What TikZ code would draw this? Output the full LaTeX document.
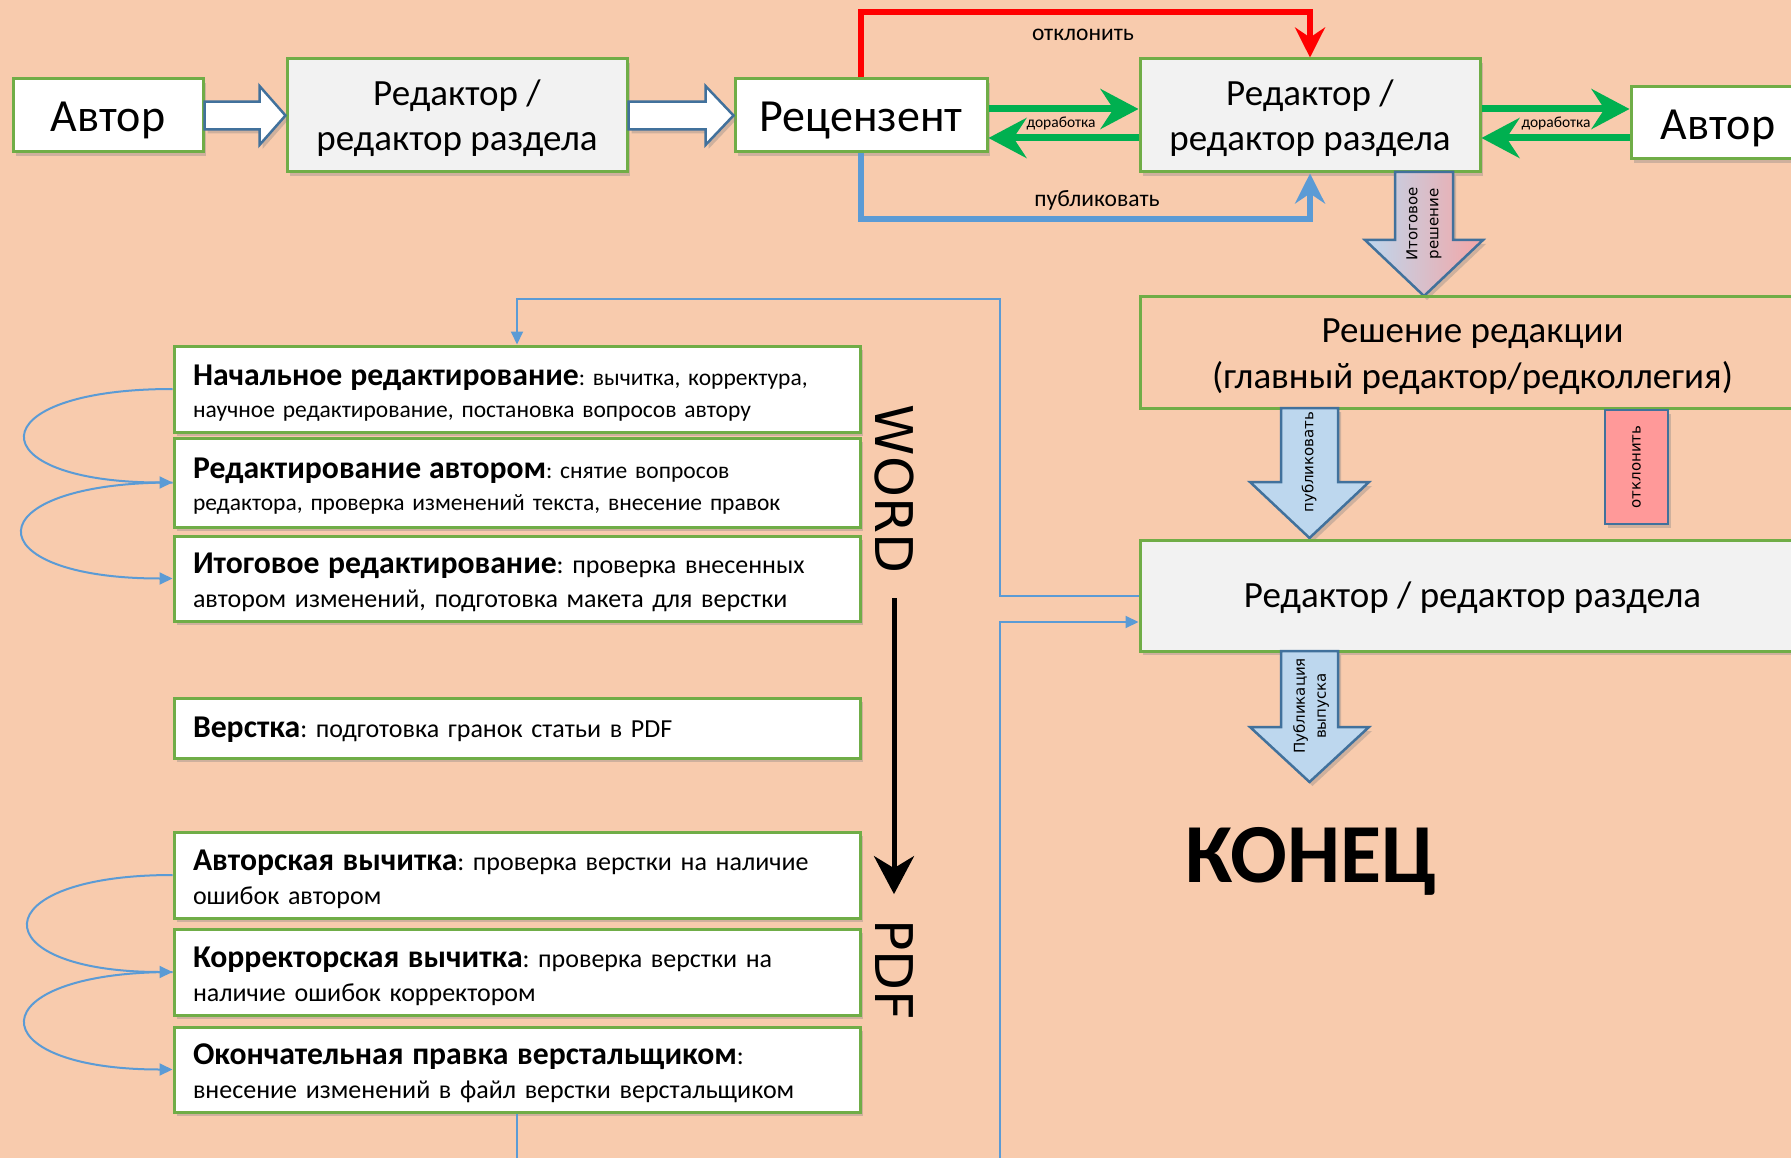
\documentclass[tikz,border=0pt]{standalone}
\usepackage{fontspec}
\setmainfont{Carlito}
\newfontfamily\dvfont{DejaVu Sans}
\usetikzlibrary{arrows.meta,shadows,calc}
\definecolor{bgc}{HTML}{F8CBAD}
\definecolor{gbord}{HTML}{70AD47}
\definecolor{boxgray}{HTML}{F2F2F2}
\definecolor{bdark}{HTML}{41719C}
\definecolor{blin}{HTML}{5B9BD5}
\definecolor{garr}{HTML}{00B050}
\definecolor{lblue}{HTML}{BDD7EE}
\definecolor{lpink}{HTML}{F4A6A6}
\definecolor{rbox}{HTML}{FF9999}
\newcommand\fsBig{\fontsize{46}{52}\selectfont}
\newcommand\fsMid{\fontsize{37}{45}\selectfont}
\newcommand\fsRes{\fontsize{37}{46}\selectfont}
\newcommand\fsSmallReg{\fontsize{23.5}{32}\selectfont}
\newcommand\fsReg{\fontsize{26}{34}\selectfont}
\newcommand\hb[1]{{\fontsize{31.7}{34}\selectfont\bfseries #1}}
\newcommand\fsLbl{\fontsize{23.5}{26}\selectfont}
\newcommand\fsTiny{\fontsize{15.5}{18}\selectfont}
\newcommand\fsRot{\dvfont\fontsize{15}{21}\selectfont}
\newcommand\fsWord{\dvfont\fontsize{52}{60}\selectfont}
\newcommand\fsEnd{\fontsize{84}{90}\selectfont\bfseries}
\frenchspacing
\begin{document}
\frenchspacing
\begin{tikzpicture}[x=1pt,y=-1pt,
  shad/.style={drop shadow={shadow xshift=3pt,shadow yshift=-4pt,opacity=.35}},
  box/.style={draw=gbord, line width=3pt, inner sep=0pt, shad},
  wbox/.style={box, fill=white},
  gbox/.style={box, fill=boxgray},
  lbox/.style={box, fill=white, minimum width=686pt},
  ltext/.style={text width=648pt, align=left, inner sep=0pt},
  ctext/.style={align=center, inner sep=0pt},
  warrow/.style={draw=bdark, line width=2.5pt, fill=white, line join=miter, shad},
  barrow/.style={draw=bdark, line width=2.5pt, fill=lblue, line join=miter, shad},
  garrow/.style={draw=garr, line width=7pt, -{Stealth[length=38pt,width=40pt,inset=13pt]}},
  redl/.style={draw=red, line width=6pt, -{Stealth[length=30pt,width=30pt,inset=10pt]}},
  bluel/.style={draw=blin, line width=6pt, -{Stealth[length=30pt,width=30pt,inset=10pt]}},
  thinb/.style={draw=blin, line width=2pt, -{Triangle[length=13pt,width=12pt]}},
  blk/.style={draw=black, line width=5pt, -{Stealth[length=38pt,width=40pt,inset=12pt]}},
  rotlbl/.style={rotate=90, align=center, inner sep=0pt, font=\fsRot}
]
\useasboundingbox (0,0) rectangle (1791,1158);
\clip (0,0) rectangle (1791,1158);
\fill[bgc] (0,0) rectangle (1791,1158);

% ---------- top row ----------
\node[wbox, minimum width=190pt, minimum height=73pt] (avtor1) at (108,115.5) {};
\node[ctext, font=\fsBig] (avtor1t) at ($(avtor1)+(0,4.5)$) {Автор};
\node[gbox, minimum width=340pt, minimum height=113pt] (red1) at (457,115.5) {};
\node[ctext, font=\fsMid] (red1t) at ($(red1)+(0,3)$) {Редактор /\\редактор раздела};
\node[wbox, minimum width=252pt, minimum height=73pt] (rec) at (861,115.5) {};
\node[ctext, font=\fsBig] (rect) at ($(rec)+(0,5)$) {Рецензент};
\node[gbox, minimum width=340pt, minimum height=113pt] (red2) at (1310,115.5) {};
\node[ctext, font=\fsMid] (red2t) at ($(red2)+(0,3)$) {Редактор /\\редактор раздела};
\node[wbox, minimum width=174pt, minimum height=72pt] (avtor2) at (1718,123) {};
\node[ctext, font=\fsBig] (avtor2t) at ($(avtor2)+(0,5)$) {Автор};

% white block arrows
\draw[warrow] ($(avtor1.east)+(0,-13.8)$) -- ($(red1.west)+(-26,-13.8)$) -- ($(red1.west)+(-26,-29.5)$) -- (red1.west)
  -- ($(red1.west)+(-26,29.5)$) -- ($(red1.west)+(-26,13.8)$) -- ($(avtor1.east)+(0,13.8)$) -- cycle;
\draw[warrow] ($(red1.east)+(0,-13.8)$) -- ($(rec.west)+(-28,-13.8)$) -- ($(rec.west)+(-28,-29.5)$) -- (rec.west)
  -- ($(rec.west)+(-28,29.5)$) -- ($(rec.west)+(-28,13.8)$) -- ($(red1.east)+(0,13.8)$) -- cycle;

% green arrows
\coordinate (gy1) at (0,109);
\coordinate (gy2) at (0,138);
\draw[garrow] (rec.east |- gy1) -- (red2.west |- gy1);
\draw[garrow] (red2.west |- gy2) -- (rec.east |- gy2);
\draw[garrow] (red2.east |- gy1) -- (avtor2.west |- gy1);
\draw[garrow] (avtor2.west |- gy2) -- (red2.east |- gy2);
\node[font=\fsTiny, inner sep=0pt] (dor1) at (1061,123) {доработка};
\node[font=\fsTiny, inner sep=0pt] (dor2) at (1556,123) {доработка};

% red and blue routes
\coordinate (rtop) at (0,12);
\coordinate (bbot) at (0,219);
\draw[redl, line join=miter] (rec.north) |- (rtop -| red2.north) -- (red2.north);
\draw[bluel, line join=miter] (rec.south) |- (bbot -| red2.south) -- (red2.south);
\node[font=\fsLbl, inner sep=0pt] (otkl1) at (1083,35) {отклонить};
\node[font=\fsLbl, inner sep=0pt] (publ1) at (1097,200) {публиковать};

% gradient block arrow
\path[draw=bdark, line width=2.5pt, left color=lblue, right color=lpink, line join=miter, shad]
  (1395,172) -- (1453,172) -- (1453,240) -- (1483,240) -- (1424,296) -- (1365,240) -- (1395,240) -- cycle;
\node[rotlbl] (itog) at (1424,224) {Итоговое\\решение};

% ---------- right column ----------
\node[draw=gbord, line width=3pt, minimum width=665pt, minimum height=111pt, inner sep=0pt] (resh) at (1472.5,352.5) {};
\node[ctext, font=\fsRes] (resht) at ($(resh)+(0,4.5)$) {Решение редакции\\(главный редактор/редколлегия)};

\path[barrow] (1281,408) -- (1338,408) -- (1338,482) -- (1369,482) -- (1309.5,538) -- (1250,482) -- (1281,482) -- cycle;
\node[rotlbl] (publ2) at (1309,462) {публиковать};

\node[draw=bdark, line width=2.5pt, fill=rbox, minimum width=63pt, minimum height=114pt, inner sep=0pt, shad, font=\fsRot] (otkl2) at (1636.5,467) {\rotatebox{90}{отклонить}};

\node[gbox, minimum width=665pt, minimum height=111pt] (red3) at (1472.5,595.5) {};
\node[ctext, font=\fsMid] (red3t) at ($(red3)+(0,2.5)$) {Редактор / редактор раздела};

\path[barrow] (1281,651) -- (1338,651) -- (1338,727) -- (1369,727) -- (1309.5,782) -- (1250,727) -- (1281,727) -- cycle;
\node[rotlbl] (pubvyp) at (1311,706) {Публикация\\выпуска};

\node[font=\fsEnd, anchor=base, inner sep=0pt] (konec) at (1311,882) {КОНЕЦ};

% ---------- left column ----------
\node[lbox, minimum height=86pt] (b1) at (517,389) {};
\node[ltext, font=\fsSmallReg] (b1t) at ($(b1)+(0,4)$)
  {\hb{Начальное редактирование}: вычитка, корректура,\\научное редактирование, постановка вопросов автору};
\node[lbox, minimum height=89pt] (b2) at (517,482.5) {};
\node[ltext, font=\fsSmallReg] (b2t) at ($(b2)+(0,4)$)
  {\hb{Редактирование автором}: снятие вопросов\\редактора, проверка изменений текста, внесение правок};
\node[lbox, minimum height=85pt] (b3) at (517,578.5) {};
\node[ltext, font=\fsReg] (b3t) at ($(b3)+(0,4)$)
  {\hb{Итоговое редактирование}: проверка внесенных\\автором изменений, подготовка макета для верстки};
\node[lbox, minimum height=60pt] (b4) at (517,728) {};
\node[ltext, font=\fsReg] (b4t) at ($(b4)+(0,2)$)
  {\hb{Верстка}: подготовка гранок статьи в PDF};
\node[lbox, minimum height=86pt] (b5) at (517,875) {};
\node[ltext, font=\fsReg] (b5t) at ($(b5)+(0,4)$)
  {\hb{Авторская вычитка}: проверка верстки на наличие\\ошибок автором};
\node[lbox, minimum height=86pt] (b6) at (517,972) {};
\node[ltext, font=\fsReg] (b6t) at ($(b6)+(0,4)$)
  {\hb{Корректорская вычитка}: проверка верстки на\\наличие ошибок корректором};
\node[lbox, minimum height=85pt] (b7) at (517,1069.5) {};
\node[ltext, font=\fsReg] (b7t) at ($(b7)+(0,4)$)
  {\hb{Окончательная правка верстальщиком}:\\внесение изменений в файл верстки верстальщиком};

% curved arrows
\draw[thinb] (b1.west) .. controls +(-196,0) and +(-196,0) .. (b2.west);
\draw[thinb] (b2.west) .. controls +(-200,0) and +(-200,0) .. (b3.west);
\draw[thinb] (b5.west) .. controls +(-192,0) and +(-192,0) .. (b6.west);
\draw[thinb] (b6.west) .. controls +(-196,0) and +(-196,0) .. (b7.west);

% thin routing lines
\coordinate (jA) at (1000,299);
\coordinate (jB) at (1000,1190);
\draw[thinb, line join=miter] (red3.west) -| (jA) -| (b1.north);
\draw[thinb, line join=miter] (b7.south) |- (jB) |- (red3.west |- 0,622);

% WORD -> PDF
\node[font=\fsWord, rotate=-90, inner sep=0pt] (word) at (894,489) {WORD};
\node[font=\fsWord, rotate=-90, inner sep=0pt] (pdf) at (894,970) {PDF};
\draw[blk] ($(word.east)+(0,25)$) -- ($(pdf.west)+(0,-25)$);
\end{tikzpicture}
\end{document}
